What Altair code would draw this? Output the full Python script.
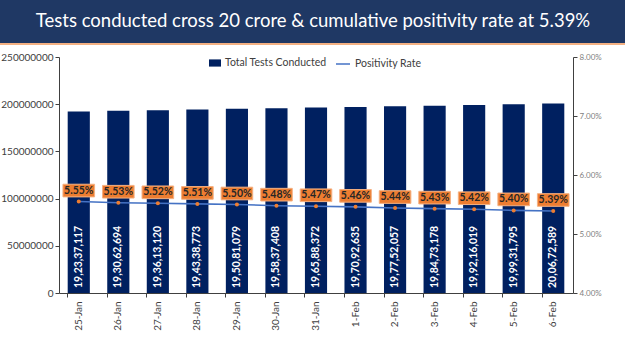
import altair as alt
import pandas as pd

dates = ["25-Jan", "26-Jan", "27-Jan", "28-Jan", "29-Jan", "30-Jan", "31-Jan",
         "1-Feb", "2-Feb", "3-Feb", "4-Feb", "5-Feb", "6-Feb"]
tests = [192337117, 193062694, 193613120, 194338773, 195081079, 195837408,
         196588372, 197092635, 197752057, 198473178, 199216019, 199931795,
         200672589]
rates = [5.55, 5.53, 5.52, 5.51, 5.50, 5.48, 5.47, 5.46, 5.44, 5.43, 5.42,
         5.40, 5.39]
title_text = "Tests conducted cross 20 crore & cumulative positivity rate at 5.39%"


def indian(n):
    s = str(n)
    last3, rest = s[-3:], s[:-3]
    groups = []
    while len(rest) > 2:
        groups.insert(0, rest[-2:])
        rest = rest[:-2]
    if rest:
        groups.insert(0, rest)
    return ",".join(groups + [last3])


df = pd.DataFrame({
    "date": dates,
    "tests": tests,
    "tests_label": [indian(v) for v in tests],
    "rate": [r / 100 for r in rates],
    "rate_label": [f"{r:.2f}%" for r in rates],
    "s1": "Total Tests Conducted",
    "s2": "Positivity Rate",
})

W, H = 514, 236
FONT = "Lato"
NAVY = "#002060"
ORANGE = "#ED7D31"
BLUE = "#4472C4"

xenc = alt.X("date:N", sort=dates, title=None,
             scale=alt.Scale(paddingInner=0.44, paddingOuter=0.22),
             axis=alt.Axis(labelAngle=-90, labelFontSize=10, labelColor="#404040",
                           labelFont=FONT, bandPosition=0, tickSize=4,
                           tickColor="#404040", domainColor="#404040",
                           labelPadding=4))

yleft = alt.Scale(domain=[0, 250000000])
yright = alt.Scale(domain=[0.04, 0.08])

base = alt.Chart(df)

bars = base.mark_bar(color=NAVY).encode(
    x=xenc,
    y=alt.Y("tests:Q", scale=yleft, title=None,
            axis=alt.Axis(values=[0, 50000000, 100000000, 150000000, 200000000, 250000000],
                          format="d", grid=False, labelFontSize=10, labelFont=FONT,
                          labelColor="#404040", domainColor="#404040",
                          tickColor="#404040", tickSize=4)),
    fill=alt.Fill("s1:N", scale=alt.Scale(domain=["Total Tests Conducted"], range=[NAVY]),
                  legend=alt.Legend(orient="none", legendX=150, legendY=0, title=None,
                                    symbolType="M-1,-0.6H1V0.6H-1Z", symbolSize=144,
                                    labelFontSize=10.5, labelFont=FONT,
                                    labelColor="#404040", symbolStrokeWidth=0)),
)

bar_labels = base.mark_text(angle=270, align="left", baseline="middle", dx=5,
                            color="white", fontWeight="bold", fontSize=10.5,
                            font=FONT).encode(
    x=alt.X("date:N", sort=dates),
    y=alt.datum(0, scale=yleft),
    text="tests_label:N",
)

left = alt.layer(bars, bar_labels)

line = base.mark_line(strokeWidth=1.6).encode(
    x=alt.X("date:N", sort=dates),
    y=alt.Y("rate:Q", scale=yright, title=None,
            axis=alt.Axis(orient="right", format=".2%", grid=False,
                          values=[0.04, 0.045, 0.05, 0.055, 0.06, 0.065, 0.07, 0.075, 0.08],
                          labelFontSize=8, labelFont=FONT, labelColor="#7f7f7f",
                          domainColor="#404040", tickColor="#404040", tickSize=4)),
    stroke=alt.Stroke("s2:N", scale=alt.Scale(domain=["Positivity Rate"], range=[BLUE]),
                      legend=alt.Legend(orient="none", legendX=276, legendY=-1, title=None,
                                        symbolType="M-1,0H1", symbolSize=196,
                                        symbolStrokeWidth=1.5,
                                        labelFontSize=10.5, labelFont=FONT,
                                        labelColor="#404040")),
)

points = base.mark_point(filled=True, color=ORANGE, size=16, opacity=1).encode(
    x=alt.X("date:N", sort=dates),
    y=alt.Y("rate:Q", scale=yright),
)

boxes = base.mark_point(shape="M-1,-0.4H1V0.4H-1Z", filled=True, fill=ORANGE,
                        stroke="#F4B183", strokeWidth=1, size=1000, opacity=1,
                        yOffset=-11).encode(
    x=alt.X("date:N", sort=dates),
    y=alt.Y("rate:Q", scale=yright),
)

rate_labels = base.mark_text(dy=-11, baseline="middle", align="center",
                             fontWeight="bold", fontSize=10.5, font=FONT,
                             color="#262626").encode(
    x=alt.X("date:N", sort=dates),
    y=alt.Y("rate:Q", scale=yright),
    text="rate_label:N",
)

right = alt.layer(line, points, boxes, rate_labels)

tdf = pd.DataFrame({"t": [title_text]})
banner = alt.Chart(tdf).mark_rect(color="#1F3864").encode(
    x=alt.value(-59), x2=alt.value(566), y=alt.value(-57), y2=alt.value(-14))
banner_rule = alt.Chart(tdf).mark_rect(color="#F4B183").encode(
    x=alt.value(-59), x2=alt.value(566), y=alt.value(-14), y2=alt.value(-12))
banner_text = alt.Chart(tdf).mark_text(color="white", fontSize=18.5, font=FONT,
                                       baseline="middle", align="center").encode(
    x=alt.value(254), y=alt.value(-36), text="t:N")

chart = alt.layer(banner, banner_rule, banner_text, left, right).resolve_scale(
    y="independent", fill="independent", stroke="independent"
).properties(width=W, height=H, padding=0, background="white").configure_view(
    stroke=None
)

chart.save("out.html", embed_options={"renderer": "svg", "actions": False})
